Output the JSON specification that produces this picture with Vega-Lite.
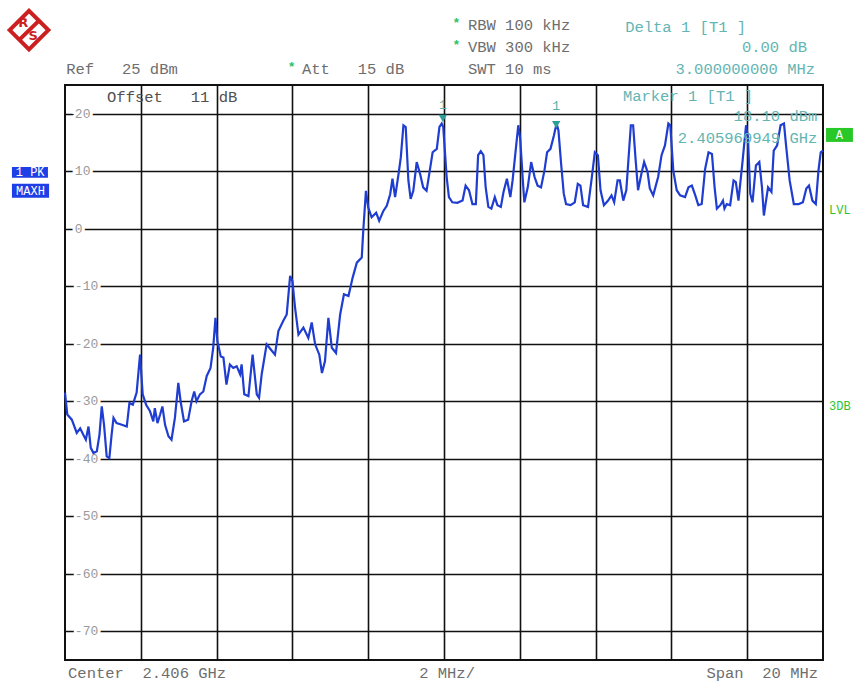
{
  "$schema": "https://vega.github.io/schema/vega-lite/v6.json",
  "width": 758,
  "height": 575,
  "autosize": {"type": "none"},
  "padding": {"left": 65, "top": 85, "right": 30, "bottom": 24},
  "background": "white",
  "config": {
    "view": {"stroke": "#111111", "strokeWidth": 2},
    "text": {"font": "Liberation Mono"}
  },
  "datasets": {
    "trace": [
      {"f":-10.00,"dB":-28.5},{"f":-9.94,"dB":-32.3},{"f":-9.82,"dB":-33.2},{"f":-9.69,"dB":-35.5},{"f":-9.60,"dB":-34.7},
      {"f":-9.52,"dB":-35.8},{"f":-9.45,"dB":-36.7},{"f":-9.38,"dB":-34.4},{"f":-9.32,"dB":-38.1},{"f":-9.25,"dB":-39.0},
      {"f":-9.16,"dB":-38.7},{"f":-9.09,"dB":-35.8},{"f":-9.03,"dB":-30.9},{"f":-8.97,"dB":-34.1},{"f":-8.90,"dB":-39.6},
      {"f":-8.83,"dB":-39.9},{"f":-8.77,"dB":-35.8},{"f":-8.72,"dB":-32.9},{"f":-8.64,"dB":-33.8},{"f":-8.50,"dB":-34.1},
      {"f":-8.37,"dB":-34.4},{"f":-8.30,"dB":-30.3},{"f":-8.21,"dB":-30.6},{"f":-8.11,"dB":-28.5},{"f":-8.02,"dB":-21.9},
      {"f":-7.95,"dB":-28.8},{"f":-7.86,"dB":-30.6},{"f":-7.76,"dB":-31.7},{"f":-7.67,"dB":-33.5},{"f":-7.63,"dB":-31.2},
      {"f":-7.56,"dB":-33.8},{"f":-7.49,"dB":-32.3},{"f":-7.43,"dB":-30.9},{"f":-7.36,"dB":-34.1},{"f":-7.27,"dB":-36.1},
      {"f":-7.19,"dB":-36.7},{"f":-7.10,"dB":-32.9},{"f":-7.01,"dB":-26.8},{"f":-6.95,"dB":-30.0},{"f":-6.86,"dB":-33.5},
      {"f":-6.75,"dB":-33.2},{"f":-6.66,"dB":-30.0},{"f":-6.59,"dB":-28.3},{"f":-6.53,"dB":-30.0},{"f":-6.44,"dB":-28.8},
      {"f":-6.35,"dB":-28.3},{"f":-6.26,"dB":-25.6},{"f":-6.16,"dB":-24.2},{"f":-6.09,"dB":-20.7},{"f":-6.03,"dB":-15.5},
      {"f":-5.98,"dB":-19.5},{"f":-5.89,"dB":-22.2},{"f":-5.82,"dB":-22.4},{"f":-5.74,"dB":-27.1},{"f":-5.65,"dB":-23.6},
      {"f":-5.56,"dB":-24.2},{"f":-5.47,"dB":-23.9},{"f":-5.38,"dB":-25.3},{"f":-5.34,"dB":-23.6},{"f":-5.27,"dB":-28.8},
      {"f":-5.16,"dB":-29.1},{"f":-5.05,"dB":-21.9},{"f":-4.94,"dB":-28.8},{"f":-4.88,"dB":-29.4},{"f":-4.81,"dB":-25.3},
      {"f":-4.68,"dB":-20.1},{"f":-4.57,"dB":-21.0},{"f":-4.46,"dB":-21.9},{"f":-4.37,"dB":-17.8},{"f":-4.24,"dB":-16.0},
      {"f":-4.15,"dB":-14.9},{"f":-4.06,"dB":-8.2},{"f":-4.00,"dB":-9.1},{"f":-3.93,"dB":-13.7},{"f":-3.84,"dB":-18.4},
      {"f":-3.71,"dB":-17.2},{"f":-3.58,"dB":-19.0},{"f":-3.49,"dB":-16.3},{"f":-3.40,"dB":-20.1},{"f":-3.29,"dB":-21.9},
      {"f":-3.22,"dB":-25.1},{"f":-3.14,"dB":-23.0},{"f":-3.05,"dB":-15.5},{"f":-2.96,"dB":-20.7},{"f":-2.85,"dB":-21.6},
      {"f":-2.74,"dB":-14.9},{"f":-2.64,"dB":-11.4},{"f":-2.52,"dB":-11.7},{"f":-2.41,"dB":-8.5},{"f":-2.30,"dB":-5.9},
      {"f":-2.17,"dB":-5.0},{"f":-2.13,"dB":-0.3},{"f":-2.06,"dB":6.6},{"f":-2.00,"dB":3.7},{"f":-1.91,"dB":2.0},
      {"f":-1.79,"dB":2.8},{"f":-1.71,"dB":1.4},{"f":-1.60,"dB":3.1},{"f":-1.51,"dB":4.0},{"f":-1.42,"dB":6.0},
      {"f":-1.36,"dB":8.7},{"f":-1.29,"dB":5.5},{"f":-1.20,"dB":9.5},{"f":-1.14,"dB":12.4},{"f":-1.07,"dB":18.0},
      {"f":-1.01,"dB":17.7},{"f":-0.94,"dB":8.4},{"f":-0.88,"dB":5.2},{"f":-0.81,"dB":6.6},{"f":-0.72,"dB":11.6},
      {"f":-0.63,"dB":9.5},{"f":-0.55,"dB":7.2},{"f":-0.46,"dB":6.6},{"f":-0.39,"dB":9.5},{"f":-0.30,"dB":13.3},
      {"f":-0.19,"dB":13.9},{"f":-0.12,"dB":17.7},{"f":-0.06,"dB":18.3},{"f":-0.02,"dB":17.7},
      {"f":0.07,"dB":9.0},{"f":0.13,"dB":5.5},{"f":0.22,"dB":4.6},{"f":0.35,"dB":4.5},{"f":0.49,"dB":4.9},
      {"f":0.57,"dB":7.5},{"f":0.66,"dB":6.7},{"f":0.75,"dB":4.3},{"f":0.84,"dB":4.3},{"f":0.90,"dB":12.8},
      {"f":0.97,"dB":13.5},{"f":1.04,"dB":12.8},{"f":1.10,"dB":7.2},{"f":1.17,"dB":3.8},{"f":1.25,"dB":3.5},
      {"f":1.34,"dB":5.5},{"f":1.41,"dB":4.1},{"f":1.50,"dB":3.8},{"f":1.57,"dB":6.4},{"f":1.66,"dB":8.7},
      {"f":1.75,"dB":5.5},{"f":1.81,"dB":8.4},{"f":1.90,"dB":14.2},{"f":1.96,"dB":18.0},{"f":2.01,"dB":15.7},
      {"f":2.08,"dB":8.4},{"f":2.12,"dB":4.6},{"f":2.21,"dB":7.2},{"f":2.30,"dB":11.6},{"f":2.39,"dB":9.0},
      {"f":2.47,"dB":7.5},{"f":2.56,"dB":7.2},{"f":2.65,"dB":10.1},{"f":2.72,"dB":13.3},{"f":2.81,"dB":13.9},
      {"f":2.90,"dB":16.2},{"f":2.97,"dB":18.3},{"f":3.02,"dB":17.1},{"f":3.09,"dB":11.3},{"f":3.16,"dB":6.1},
      {"f":3.22,"dB":4.3},{"f":3.34,"dB":4.1},{"f":3.45,"dB":4.6},{"f":3.53,"dB":7.8},{"f":3.60,"dB":7.5},
      {"f":3.67,"dB":4.1},{"f":3.80,"dB":3.8},{"f":3.89,"dB":8.4},{"f":3.98,"dB":13.3},{"f":4.06,"dB":12.8},
      {"f":4.13,"dB":6.7},{"f":4.22,"dB":4.1},{"f":4.33,"dB":4.9},{"f":4.42,"dB":5.8},{"f":4.49,"dB":4.6},
      {"f":4.58,"dB":8.4},{"f":4.64,"dB":8.4},{"f":4.73,"dB":4.9},{"f":4.81,"dB":6.7},{"f":4.93,"dB":18.0},
      {"f":4.99,"dB":18.0},{"f":5.05,"dB":12.5},{"f":5.12,"dB":6.7},{"f":5.21,"dB":9.6},{"f":5.28,"dB":11.6},
      {"f":5.37,"dB":9.9},{"f":5.43,"dB":7.0},{"f":5.52,"dB":5.8},{"f":5.65,"dB":9.0},{"f":5.74,"dB":12.8},
      {"f":5.83,"dB":14.5},{"f":5.92,"dB":18.3},{"f":5.97,"dB":18.0},{"f":6.05,"dB":10.1},{"f":6.14,"dB":6.7},
      {"f":6.23,"dB":5.8},{"f":6.36,"dB":5.5},{"f":6.45,"dB":7.2},{"f":6.54,"dB":7.5},{"f":6.63,"dB":5.8},
      {"f":6.71,"dB":4.1},{"f":6.80,"dB":4.3},{"f":6.89,"dB":10.4},{"f":6.98,"dB":13.3},{"f":7.07,"dB":13.0},
      {"f":7.14,"dB":7.2},{"f":7.20,"dB":3.5},{"f":7.29,"dB":4.1},{"f":7.36,"dB":4.9},{"f":7.40,"dB":3.5},
      {"f":7.46,"dB":4.3},{"f":7.55,"dB":4.1},{"f":7.64,"dB":8.4},{"f":7.70,"dB":8.1},{"f":7.77,"dB":4.9},
      {"f":7.88,"dB":11.9},{"f":7.97,"dB":18.0},{"f":8.02,"dB":15.9},{"f":8.08,"dB":6.1},{"f":8.14,"dB":4.6},
      {"f":8.23,"dB":11.0},{"f":8.32,"dB":11.6},{"f":8.39,"dB":7.2},{"f":8.44,"dB":2.3},{"f":8.48,"dB":4.1},
      {"f":8.55,"dB":7.2},{"f":8.64,"dB":6.4},{"f":8.70,"dB":13.6},{"f":8.79,"dB":14.5},{"f":8.88,"dB":18.0},
      {"f":8.97,"dB":18.3},{"f":9.03,"dB":14.2},{"f":9.12,"dB":8.4},{"f":9.23,"dB":4.3},{"f":9.36,"dB":4.3},
      {"f":9.47,"dB":4.6},{"f":9.56,"dB":7.0},{"f":9.63,"dB":7.5},{"f":9.72,"dB":4.9},{"f":9.81,"dB":4.3},
      {"f":9.88,"dB":10.1},{"f":9.94,"dB":13.3},{"f":10.00,"dB":13.6}
    ],
    "ylabels": [
      {"f":-9.74,"dB":20,"lab":"20"},{"f":-9.74,"dB":10,"lab":"10"},{"f":-9.74,"dB":0,"lab":"0"},
      {"f":-9.74,"dB":-10,"lab":"-10"},{"f":-9.74,"dB":-20,"lab":"-20"},{"f":-9.74,"dB":-30,"lab":"-30"},
      {"f":-9.74,"dB":-40,"lab":"-40"},{"f":-9.74,"dB":-50,"lab":"-50"},{"f":-9.74,"dB":-60,"lab":"-60"},
      {"f":-9.74,"dB":-70,"lab":"-70"}
    ],
    "markers": [{"f":-0.03,"dB":19.2},{"f":2.96,"dB":18.1}],
    "markerLabels": [{"f":-0.03,"dB":21.6,"lab":"1"},{"f":2.96,"dB":21.4,"lab":"1"}],
    "grayLeft": [
      {"f":-9.97,"dB":27.8,"lab":"Ref\u00a0\u00a0\u00a025\u00a0dBm"},
      {"f":-3.75,"dB":27.8,"lab":"Att\u00a0\u00a0\u00a015\u00a0dB"},
      {"f":0.63,"dB":35.4,"lab":"RBW\u00a0100\u00a0kHz"},
      {"f":0.63,"dB":31.6,"lab":"VBW\u00a0300\u00a0kHz"},
      {"f":0.63,"dB":27.8,"lab":"SWT\u00a010\u00a0ms"},
      {"f":-9.92,"dB":-77.3,"lab":"Center\u00a0\u00a02.406\u00a0GHz"}
    ],
    "darkLeft": [{"f":-8.89,"dB":22.9,"lab":"Offset\u00a0\u00a0\u00a011\u00a0dB"}],
    "grayCenter": [{"f":0.08,"dB":-77.3,"lab":"2\u00a0MHz/"}],
    "grayRight": [{"f":9.87,"dB":-77.3,"lab":"Span\u00a0\u00a020\u00a0MHz"}],
    "asterisks": [{"f":0.33,"dB":35.8,"lab":"*"},{"f":0.33,"dB":32.0,"lab":"*"},{"f":-4.02,"dB":28.2,"lab":"*"}],
    "tealLeft": [
      {"f":4.78,"dB":35.1,"lab":"Delta\u00a01\u00a0[T1\u00a0]"},
      {"f":4.72,"dB":23.1,"lab":"Marker\u00a01\u00a0[T1\u00a0]"}
    ],
    "tealRight": [
      {"f":9.58,"dB":31.6,"lab":"0.00\u00a0dB"},
      {"f":9.79,"dB":27.8,"lab":"3.000000000\u00a0MHz"},
      {"f":9.85,"dB":19.6,"lab":"18.10\u00a0dBm"},
      {"f":9.85,"dB":15.8,"lab":"2.405969949\u00a0GHz"}
    ],
    "greenText": [{"f":10.16,"dB":3.3,"lab":"LVL"},{"f":10.16,"dB":-30.9,"lab":"3DB"}],
    "blueBoxes": [
      {"f":-11.40,"f2":-10.45,"dB":10.76,"dB2":8.85},
      {"f":-11.40,"f2":-10.42,"dB":7.81,"dB2":5.38}
    ],
    "blueText": [{"f":-10.92,"dB":9.8,"lab":"1\u00a0PK"},{"f":-10.91,"dB":6.6,"lab":"MAXH"}],
    "greenBox": [{"f":10.08,"f2":10.79,"dB":17.53,"dB2":15.1}],
    "greenBoxText": [{"f":10.43,"dB":16.3,"lab":"A"}],
    "logo": [{"f":-10.95,"dB":34.55}],
    "logoBand": [{"f":-11.214,"dB":32.81,"f2":-10.66,"dB2":36.37}],
    "logoText": [{"f":-11.10,"dB":35.8,"lab":"R"},{"f":-10.84,"dB":33.5,"lab":"S"}]
  },
  "encoding": {
    "x": {
      "field": "f", "type": "quantitative",
      "scale": {"domain": [-10, 10], "nice": false, "zero": false},
      "axis": {"values": [-8,-6,-4,-2,0,2,4,6,8], "grid": true, "gridColor": "#111111", "gridWidth": 1.6,
               "labels": false, "ticks": false, "domain": false, "title": null}
    },
    "y": {
      "field": "dB", "type": "quantitative",
      "scale": {"domain": [-75, 25], "nice": false, "zero": false},
      "axis": {"values": [-70,-60,-50,-40,-30,-20,-10,0,10,20], "grid": true, "gridColor": "#111111", "gridWidth": 1.6,
               "labels": false, "ticks": false, "domain": false, "title": null}
    }
  },
  "layer": [
    {
      "data": {"name": "ylabels"},
      "mark": {"type": "text", "align": "left", "baseline": "middle", "fontSize": 13, "fill": "white", "stroke": "white", "strokeWidth": 6},
      "encoding": {"text": {"field": "lab"}}
    },
    {
      "data": {"name": "ylabels"},
      "mark": {"type": "text", "align": "left", "baseline": "middle", "fontSize": 13, "fill": "#9a9a9a"},
      "encoding": {"text": {"field": "lab"}}
    },
    {
      "data": {"name": "trace"},
      "mark": {"type": "line", "color": "#1f3dd0", "strokeWidth": 2.2, "interpolate": "linear"}
    },
    {
      "data": {"name": "markers"},
      "mark": {"type": "point", "shape": "triangle-down", "filled": true, "color": "#2e9e9a", "size": 70, "opacity": 1}
    },
    {
      "data": {"name": "markerLabels"},
      "mark": {"type": "text", "align": "center", "baseline": "middle", "fontSize": 13, "fill": "#5ab0ad"},
      "encoding": {"text": {"field": "lab"}}
    },
    {
      "data": {"name": "grayLeft"},
      "mark": {"type": "text", "align": "left", "baseline": "middle", "fontSize": 15.5, "fill": "#6e6e6e"},
      "encoding": {"text": {"field": "lab"}}
    },
    {
      "data": {"name": "darkLeft"},
      "mark": {"type": "text", "align": "left", "baseline": "middle", "fontSize": 15.5, "fill": "#505050"},
      "encoding": {"text": {"field": "lab"}}
    },
    {
      "data": {"name": "grayCenter"},
      "mark": {"type": "text", "align": "center", "baseline": "middle", "fontSize": 15.5, "fill": "#6e6e6e"},
      "encoding": {"text": {"field": "lab"}}
    },
    {
      "data": {"name": "grayRight"},
      "mark": {"type": "text", "align": "right", "baseline": "middle", "fontSize": 15.5, "fill": "#6e6e6e"},
      "encoding": {"text": {"field": "lab"}}
    },
    {
      "data": {"name": "asterisks"},
      "mark": {"type": "text", "align": "center", "baseline": "middle", "fontSize": 13, "fontWeight": "bold", "fill": "#2fbf6a"},
      "encoding": {"text": {"field": "lab"}}
    },
    {
      "data": {"name": "tealLeft"},
      "mark": {"type": "text", "align": "left", "baseline": "middle", "fontSize": 15.5, "fill": "#63b5b3"},
      "encoding": {"text": {"field": "lab"}}
    },
    {
      "data": {"name": "tealRight"},
      "mark": {"type": "text", "align": "right", "baseline": "middle", "fontSize": 15.5, "fill": "#63b5b3"},
      "encoding": {"text": {"field": "lab"}}
    },
    {
      "data": {"name": "greenText"},
      "mark": {"type": "text", "align": "left", "baseline": "middle", "fontSize": 12, "fill": "#2ec42e"},
      "encoding": {"text": {"field": "lab"}}
    },
    {
      "data": {"name": "blueBoxes"},
      "mark": {"type": "rect", "color": "#1f3fe6"},
      "encoding": {"x2": {"field": "f2"}, "y2": {"field": "dB2"}}
    },
    {
      "data": {"name": "blueText"},
      "mark": {"type": "text", "align": "center", "baseline": "middle", "fontSize": 12, "fill": "white"},
      "encoding": {"text": {"field": "lab"}}
    },
    {
      "data": {"name": "greenBox"},
      "mark": {"type": "rect", "color": "#27c827"},
      "encoding": {"x2": {"field": "f2"}, "y2": {"field": "dB2"}}
    },
    {
      "data": {"name": "greenBoxText"},
      "mark": {"type": "text", "align": "center", "baseline": "middle", "fontSize": 12, "fill": "white"},
      "encoding": {"text": {"field": "lab"}}
    },
    {
      "data": {"name": "logo"},
      "mark": {"type": "point", "shape": "diamond", "size": 1500, "fill": "white", "fillOpacity": 1, "stroke": "#cc1f1f", "strokeWidth": 4, "opacity": 1}
    },
    {
      "data": {"name": "logoBand"},
      "mark": {"type": "rule", "color": "#cc1f1f", "strokeWidth": 4},
      "encoding": {"x2": {"field": "f2"}, "y2": {"field": "dB2"}}
    },
    {
      "data": {"name": "logoText"},
      "mark": {"type": "text", "align": "center", "baseline": "middle", "fontSize": 13, "font": "DejaVu Sans", "fontWeight": "bold", "fill": "#cc1f1f"},
      "encoding": {"text": {"field": "lab"}}
    }
  ]
}
